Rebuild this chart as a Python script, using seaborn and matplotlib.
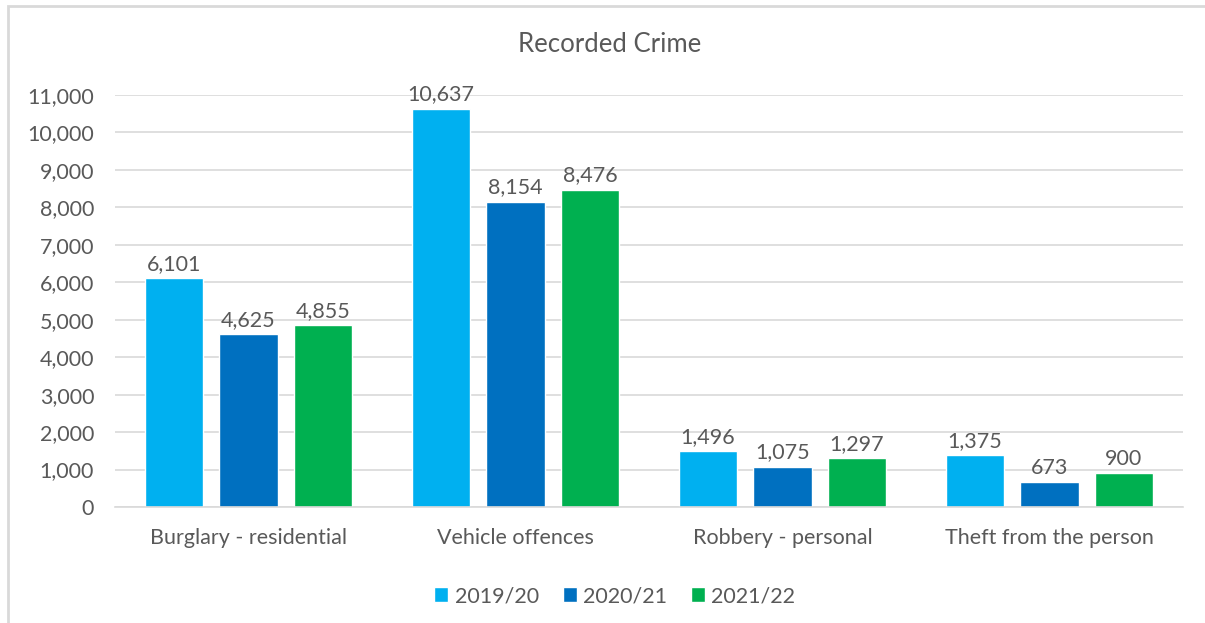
import matplotlib
matplotlib.use("Agg")
import matplotlib.pyplot as plt
import seaborn as sns
import pandas as pd
from matplotlib.patches import Rectangle

# Data
categories = ["Burglary - residential", "Vehicle offences", "Robbery - personal", "Theft from the person"]
years = ["2019/20", "2020/21", "2021/22"]
counts_2019 = [6101, 10637, 1496, 1375]
counts_2020 = [4625, 8154, 1075, 673]
counts_2021 = [4855, 8476, 1297, 900]
colors = ["#00B0F0", "#0070C0", "#00B050"]

rows = []
for year, vals in zip(years, [counts_2019, counts_2020, counts_2021]):
    for cat, v in zip(categories, vals):
        rows.append({"category": cat, "year": year, "count": v})
df = pd.DataFrame(rows)

sns.set_theme(style="white")
plt.rcParams["font.family"] = ["Lato", "DejaVu Sans"]
text_color = "#595959"
fs = 15.5

fig = plt.figure(figsize=(12.05, 6.23), dpi=100)
ax = fig.add_axes([0.0954, 0.1862, 0.8863, 0.6613])

sns.barplot(data=df, x="category", y="count", hue="year", order=categories,
            hue_order=years, palette=colors, width=0.837, gap=0.22,
            saturation=1, ax=ax, legend=True)

ax.set_ylim(0, 11000)
ax.set_xlim(-0.5, len(categories) - 0.5)
ax.set_yticks(range(0, 11001, 1000))
ax.set_yticklabels([f"{v:,}" for v in range(0, 11001, 1000)])
ax.yaxis.grid(True, color="#D9D9D9", linewidth=1.2)
ax.set_axisbelow(True)
for side in ["left", "right", "top"]:
    ax.spines[side].set_visible(False)
ax.spines["bottom"].set_color("#D9D9D9")
ax.spines["bottom"].set_linewidth(1.2)
ax.tick_params(axis="both", length=0, labelsize=fs, colors=text_color)
ax.tick_params(axis="x", pad=15)
ax.tick_params(axis="y", pad=15)
ax.set_xlabel("")
ax.set_ylabel("")

# Value labels above bars
for container in ax.containers:
    ax.bar_label(container, labels=[f"{int(b.get_height()):,}" for b in container],
                 padding=3, fontsize=fs, color=text_color)

fig.text(610 / 1205, 1 - 45 / 623, "Recorded Crime", fontsize=18.5,
         color=text_color, ha="center", va="center")

handles, labels = ax.get_legend_handles_labels()
ax.legend(handles, labels, loc="upper center", bbox_to_anchor=(0.468, -0.145),
          ncol=3, frameon=False, fontsize=fs, labelcolor=text_color,
          handlelength=0.65, handleheight=0.65, handletextpad=0.3, columnspacing=1.1)

# Chart frame
fig.patches.append(Rectangle((8 / 1205, -0.01), 1.02, 1 - 6 / 623 + 0.01,
                             transform=fig.transFigure, fill=False,
                             edgecolor="#D9D9D9", linewidth=2))

fig.savefig("out.png", dpi=100)
